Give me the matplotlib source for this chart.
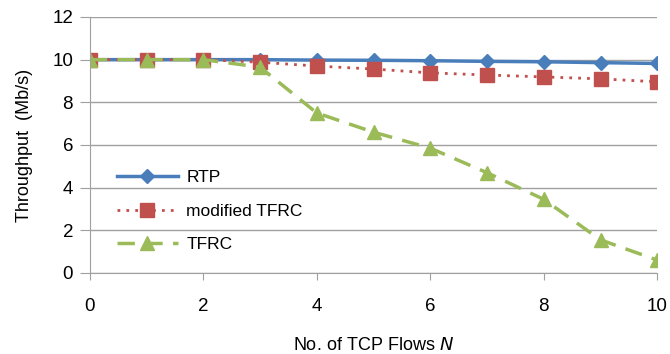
import matplotlib.pyplot as plt

plt.rcParams['font.family'] = ['Liberation Sans', 'DejaVu Sans']

flows = [0, 1, 2, 3, 4, 5, 6, 7, 8, 9, 10]
rtp = [10.0, 10.0, 10.0, 10.0, 9.98, 9.97, 9.95, 9.92, 9.9, 9.86, 9.82]
mod_tfrc = [10.0, 10.0, 10.0, 9.88, 9.7, 9.56, 9.38, 9.28, 9.19, 9.1, 8.96]
tfrc = [10.0, 10.0, 10.0, 9.65, 7.5, 6.6, 5.85, 4.7, 3.45, 1.55, 0.6]

fig = plt.figure(figsize=(6.7, 3.54), dpi=100)
ax = fig.add_axes([0.134, 0.229, 0.847, 0.723])

ax.plot(flows, rtp, color='#4a7ebb', lw=2.5, marker='D', ms=7.5, label='RTP')
ax.plot(flows, mod_tfrc, color='#c0504d', lw=2, ls=(0, (1, 2.2)), marker='s', ms=10,
        label='modified TFRC')
ax.plot(flows, tfrc, color='#9bbb59', lw=2.5, ls=(0, (5, 3)), marker='^', ms=10,
        label='TFRC')

ax.set_xlim(0, 10)
ax.set_ylim(0, 12)
ax.set_xticks(range(0, 11, 2))
ax.set_yticks(range(0, 13, 2))
ax.grid(axis='y', color='#a0a0a0', lw=1)
ax.set_axisbelow(True)
for s in ['top', 'right']:
    ax.spines[s].set_visible(False)
for s in ['left', 'bottom']:
    ax.spines[s].set_color('#a0a0a0')
ax.tick_params(axis='x', length=5, color='#a0a0a0', pad=13, labelsize=13.5)
ax.tick_params(axis='y', length=7, color='#a0a0a0', pad=5, labelsize=13.5)

ax.set_ylabel('Throughput  (Mb/s)', fontsize=13, labelpad=14)
ax.set_xlabel('No. of TCP Flows $\\it{N}$', fontsize=13, labelpad=16)

ax.legend(loc='lower left', bbox_to_anchor=(0.02, 0.02), frameon=False, fontsize=12.5,
          handlelength=3.5, handletextpad=0.5, labelspacing=1.05)

fig.savefig('out.png', dpi=100)
